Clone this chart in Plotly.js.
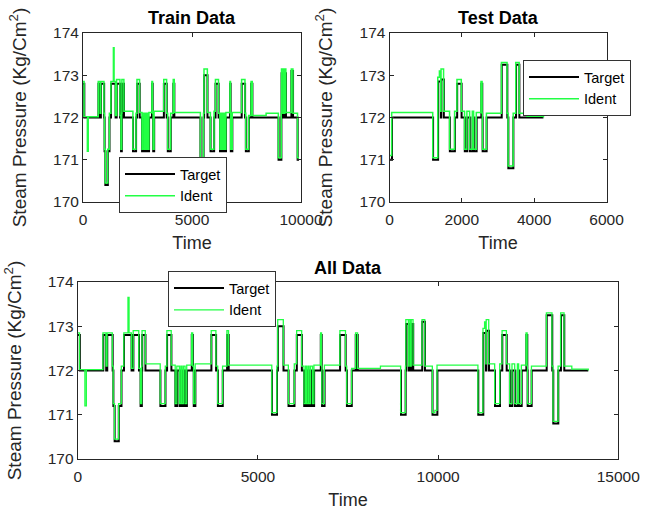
<!DOCTYPE html>
<html>
<head>
<meta charset="utf-8">
<script src="https://cdn.plot.ly/plotly-3.0.1.min.js"></script>
<style>html,body{margin:0;padding:0;background:#fff;}#chart{width:648px;height:510px;}</style>
</head>
<body>
<div id="chart"></div>
<script>
// ---- Data (step breakpoints: value holds until next time) ----
const TRAIN_LEN = 9910;

const trainTime = [0,60,710,790,820,970,990,1025,1140,1215,1285,1495,1545,1700,1745,1780,1790,1880,2295,2435,2480,2600,2710,2755,2825,2865,2900,2940,2985,3030,3165,3195,3220,3265,3710,3840,3890,4025,4145,4190,5390,5530,5555,5710,5850,6015,6080,6220,6285,6330,6360,6400,6425,6465,6520,6560,6745,6770,6780,6850,7280,7435,7470,7605,7715,7770,8970,9100,9110,9180,9200,9240,9260,9310,9560,9635,9845,9910];
const trainTarget = [172.8,172,172.8,172,172.8,172,171.2,170.4,171.2,172,172.8,172,172.8,172,171.2,172,172.8,172,171.2,172,172.8,172,171.2,172,171.2,172,171.2,172,171.2,172,172.8,172,171.2,172,172.8,172,171.2,172,172.8,172,171,172,173,172,171.2,172,172.8,172,171.2,172,171.2,172,171.2,172,171.2,172,172.8,172,171.2,172,172.8,172,171.2,172,172.8,172,171,172,173.05,172,173.05,172,173.05,172,173.1,172,171,171];

const trainIdentTime = [0,50,200,240,700,785,815,960,985,1020,1135,1210,1280,1395,1425,1490,1540,1695,1740,1775,1785,1875,2290,2430,2475,2595,2705,2750,2820,2860,2895,2935,2980,3025,3160,3190,3215,3260,3705,3835,3885,4020,4140,4185,5385,5525,5550,5705,5845,6010,6075,6215,6280,6325,6355,6395,6420,6460,6515,6555,6740,6765,6775,6845,7275,7430,7465,7600,7710,7765,8400,8960,9095,9105,9175,9195,9235,9255,9305,9555,9630,9840,9910];
const trainIdent = [172.85,172.02,171.2,172.02,172.85,172.1,172.85,172.1,171.25,170.45,171.25,172.1,172.85,173.65,172.85,172.05,172.9,172.05,171.25,172.1,172.9,172.15,171.25,172.1,172.9,172.12,171.25,172.1,171.25,172.1,171.25,172.1,171.25,172.12,172.85,172.1,171.25,172.15,172.9,172.1,171.25,172.1,172.9,172.12,171.05,172.1,173.15,172.12,171.25,172.15,172.9,172.1,171.25,172.1,171.25,172.1,171.25,172.1,171.25,172.12,172.85,172.1,171.25,172.12,172.9,172.1,171.25,172.05,172.85,172.05,172.1,171.05,172.1,173.15,172.1,173.15,172.1,173.15,172.12,173.15,172.1,171.05,171.05];

const testTime = [0,70,1205,1344,1420,1430,1502,1669,1808,1871,1993,2082,2148,2222,2298,2333,2409,2540,2565,2575,2686,3103,3258,3286,3425,3499,3591,4257];
const testTarget = [171,172,171,172.85,172,172.9,172,171.2,172,172.8,172,171.2,172,171.2,172,171.2,172,172.8,172,171.2,172,173.25,172,170.8,172,173.25,172,172];

const testIdentTime = [0,60,1195,1335,1380,1415,1425,1495,1660,1800,1865,1985,2075,2140,2215,2290,2325,2400,2530,2560,2570,2680,3095,3250,3280,3420,3490,3585,3800,4257];
const testIdent = [171.1,172.12,171.05,172.95,173.1,172.15,173.15,172.15,171.25,172.15,172.9,172.15,171.25,172.15,171.25,172.15,171.25,172.12,172.85,172.1,171.25,172.1,173.3,172.1,170.85,172.1,173.3,172.1,172.03,172.0];

const yTicks = [170,171,172,173,174];
const xTicksTrain = [0,5000,10000];
const xTicksTest = [0,2000,4000,6000];
const xTicksAll = [0,5000,10000,15000];

// All data = train followed by test
const shift = a => a.map(t => t + TRAIN_LEN);
const allTime = trainTime.concat(shift(testTime));
const allTarget = trainTarget.concat(testTarget);
const allIdentTime = trainIdentTime.concat(shift(testIdentTime));
const allIdent = trainIdent.concat(testIdent);

// ---- Styles ----
const BLACK = '#000000', GREEN = '#22ff44', AX = '#262626';
const FONT = 'Liberation Sans, Arial, Helvetica, sans-serif';

function tgt(x, y, xa, ya, lg) {
  return {x, y, xaxis: xa, yaxis: ya, legend: lg, type: 'scatter', mode: 'lines',
    line: {shape: 'hv', color: BLACK, width: 2}, name: 'Target'};
}
function idt(x, y, xa, ya, lg, w) {
  return {x, y, xaxis: xa, yaxis: ya, legend: lg, type: 'scatter', mode: 'lines',
    line: {shape: 'hv', color: GREEN, width: w}, name: 'Ident'};
}

const data = [
  tgt(trainTime, trainTarget, 'x', 'y', 'legend'),
  idt(trainIdentTime, trainIdent, 'x', 'y', 'legend', 1.5),
  tgt(testTime, testTarget, 'x2', 'y2', 'legend2'),
  idt(testIdentTime, testIdent, 'x2', 'y2', 'legend2', 1.5),
  tgt(allTime, allTarget, 'x3', 'y3', 'legend3'),
  idt(allIdentTime, allIdent, 'x3', 'y3', 'legend3', 1.3)
];

function xax(domain, range, ticks, anchor) {
  return {domain, range, tickvals: ticks, ticktext: ticks.map(String), anchor,
    ticks: 'inside', ticklen: 4, tickcolor: AX, showline: true, linecolor: AX, linewidth: 1,
    mirror: 'ticks', showgrid: false, zeroline: false, ticklabelstandoff: 3,
    tickfont: {size: 15.5, color: AX, family: FONT},
    title: {text: 'Time', font: {size: 18, color: AX, family: FONT}, standoff: 9}};
}
function yax(domain, anchor) {
  return {domain, range: [170, 174], tickvals: yTicks, ticktext: yTicks.map(String), anchor,
    ticks: 'inside', ticklen: 4, tickcolor: AX, showline: true, linecolor: AX, linewidth: 1,
    mirror: 'ticks', showgrid: false, zeroline: false,
    tickfont: {size: 15.5, color: AX, family: FONT},
    title: {text: 'Steam Pressure (Kg/Cm<sup>2</sup>)', font: {size: 19, color: AX, family: FONT}, standoff: 21}};
}
function leg(x, y) {
  return {x, y, xanchor: 'left', yanchor: 'top', bgcolor: '#ffffff', bordercolor: '#333333',
    borderwidth: 1, itemwidth: 50, font: {size: 14.5, color: '#000', family: FONT},
    tracegroupgap: 0};
}
const W = 648, H = 510;
const layout = {
  width: W, height: H, margin: {l: 0, r: 0, t: 0, b: 0},
  paper_bgcolor: '#fff', plot_bgcolor: '#fff',
  font: {family: FONT, color: AX},
  xaxis: xax([83/W, 301/W], [0, 10000], xTicksTrain, 'y'),
  yaxis: yax([1 - 202/H, 1 - 33/H], 'x'),
  xaxis2: xax([389.5/W, 606.5/W], [0, 6000], xTicksTest, 'y2'),
  yaxis2: yax([1 - 202/H, 1 - 33/H], 'x2'),
  xaxis3: xax([77.7/W, 618.3/W], [0, 15000], xTicksAll, 'y3'),
  yaxis3: yax([1 - 459/H, 1 - 282/H], 'x3'),
  legend: leg(119/W, 1 - 157/H),
  legend2: leg(523/W, 1 - 60/H),
  legend3: leg(168/W, 1 - 271/H),
  annotations: [
    {text: '<b>Train Data</b>', x: 192/W, y: 1 - 18/H, xref: 'paper', yref: 'paper', showarrow: false, xanchor: 'center', yanchor: 'middle', font: {size: 18, color: '#000', family: FONT}},
    {text: '<b>Test Data</b>', x: 498/W, y: 1 - 18/H, xref: 'paper', yref: 'paper', showarrow: false, xanchor: 'center', yanchor: 'middle', font: {size: 18, color: '#000', family: FONT}},
    {text: '<b>All Data</b>', x: 348/W, y: 1 - 268/H, xref: 'paper', yref: 'paper', showarrow: false, xanchor: 'center', yanchor: 'middle', font: {size: 18, color: '#000', family: FONT}}
  ],
  showlegend: true
};
Plotly.newPlot('chart', data, layout, {displayModeBar: false, staticPlot: true});
</script>
</body>
</html>
